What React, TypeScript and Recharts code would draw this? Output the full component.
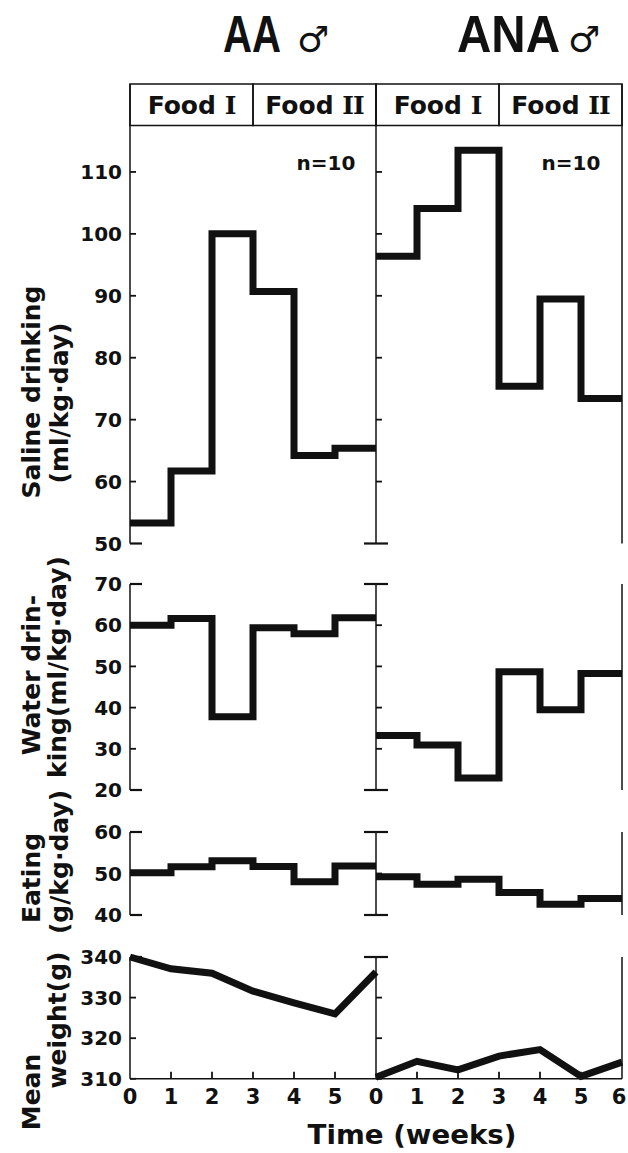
import React from "react";
import { LineChart, Line, XAxis, YAxis, ReferenceArea } from "recharts";

// weekly means; weeks 0..5 are steps, weight is per week 0..6
const weeks = [0, 1, 2, 3, 4, 5, 6];

const salineAA = [53.3, 61.7, 100.0, 90.7, 64.2, 65.4];
const salineANA = [96.4, 104.1, 113.5, 75.4, 89.5, 73.4];
const waterAA = [60.0, 61.6, 37.8, 59.4, 57.9, 61.8];
const waterANA = [33.2, 30.9, 22.9, 48.7, 39.5, 48.3];
const eatingAA = [50.2, 51.6, 53.1, 51.7, 48.0, 51.8];
const eatingANA = [49.2, 47.4, 48.6, 45.4, 42.6, 44.0];
const weightAA = [340.0, 337.1, 336.0, 331.6, 328.7, 326.0, 336.3];
const weightANA = [310.4, 314.3, 312.2, 315.6, 317.2, 310.6, 314.1];

const salineTicks = [50, 60, 70, 80, 90, 100, 110];
const waterTicks = [20, 30, 40, 50, 60, 70];
const eatingTicks = [40, 50, 60];
const weightTicks = [310, 320, 330, 340];

const foodLabels = ["I", "II"];

const FONT = "'DejaVu Sans', sans-serif";
const INK = "#111";

type Pt = { week: number; v: number };

// step series need a closing point at week 6
const toSteps = (vals: number[]): Pt[] =>
  weeks.map((w) => ({ week: w, v: vals[Math.min(w, vals.length - 1)] }));
const toPoints = (vals: number[]): Pt[] =>
  weeks.map((w, i) => ({ week: w, v: vals[i] }));

const YTick = ({ x, y, payload, caps, showLabel, both }: any) => {
  const v = payload.value;
  const isCap = caps.includes(v);
  return (
    <g>
      {isCap ? (
        <line x1={both ? x - 12 : x} x2={x + 12} y1={y} y2={y} stroke={INK} strokeWidth={2.2} />
      ) : (
        <line x1={x} x2={x + 6} y1={y} y2={y} stroke={INK} strokeWidth={1.8} />
      )}
      {showLabel && (
        <text
          x={x - 8}
          y={y}
          dy="0.36em"
          textAnchor="end"
          fontFamily={FONT}
          fontWeight="bold"
          fontSize={20}
          fill={INK}
        >
          {v}
        </text>
      )}
    </g>
  );
};

const RightCap = ({ x, y }: any) => (
  <line x1={x - 11} x2={x} y1={y} y2={y} stroke={INK} strokeWidth={2.2} />
);

const XTick = ({ x, y, payload, showLast }: any) => {
  const v = payload.value;
  return (
    <g>
      {v > 0 && v < 6 && (
        <line x1={x} x2={x} y1={y} y2={y - 7} stroke={INK} strokeWidth={1.8} />
      )}
      {(showLast || v < 6) && (
        <text
          x={v === 6 ? x - 3 : x}
          y={y + 25}
          textAnchor="middle"
          fontFamily={FONT}
          fontWeight="bold"
          fontSize={21}
          fill={INK}
        >
          {v}
        </text>
      )}
    </g>
  );
};

const headerLabel = (num: string) => (props: any) => {
  const { x, y, width, height } = props.viewBox;
  return (
    <text
      x={x + width / 2}
      y={y + height / 2}
      dy="0.36em"
      textAnchor="middle"
      fontFamily={FONT}
      fontWeight="bold"
      fontSize={25}
      fill={INK}
    >
      Food{" "}
      <tspan fontFamily="'DejaVu Serif', serif" letterSpacing={-1}>
        {num}
      </tspan>
    </text>
  );
};

interface PanelProps {
  data: Pt[];
  step?: boolean;
  domain: [number, number];
  ticks: number[];
  caps: number[];
  top: number;
  bottom: number;
  group: 0 | 1;
  withX?: boolean;
  header?: [number, number];
}

const Panel = ({ data, step, domain, ticks, caps, top, bottom, group, withX, header }: PanelProps) => {
  const isAA = group === 0;
  const mTop = 18;
  const xH = withX ? 40 : 0;
  const mBottom = withX ? 0 : 18;
  const width = isAA ? 390 : 288;
  const height = bottom - top + mTop + mBottom + xH;
  const axisLine = { stroke: INK, strokeWidth: 1.5 };

  return (
    <div style={{ position: "absolute", left: isAA ? 0 : 340, top: top - mTop }}>
      <LineChart
        width={width}
        height={height}
        data={data}
        margin={{ top: mTop, right: isAA ? 14 : 0, bottom: mBottom, left: 0 }}
      >
        <XAxis
          dataKey="week"
          type="number"
          domain={[0, 6]}
          ticks={weeks}
          interval={0}
          hide={!withX}
          height={xH}
          axisLine={axisLine}
          tickLine={false}
          tickSize={0}
          tickMargin={0}
          tick={(p: any) => <XTick {...p} showLast={!isAA} />}
        />
        <YAxis
          yAxisId="l"
          width={isAA ? 130 : 36}
          type="number"
          domain={domain}
          ticks={ticks}
          interval={0}
          axisLine={axisLine}
          tickLine={false}
          tickSize={0}
          tickMargin={0}
          tick={(p: any) => <YTick {...p} caps={caps} showLabel={isAA} both={!isAA} />}
        />
        {!isAA && (
          <YAxis
            yAxisId="r"
            orientation="right"
            width={6}
            type="number"
            domain={domain}
            ticks={caps}
            interval={0}
            axisLine={axisLine}
            tickLine={false}
            tickSize={0}
            tickMargin={0}
            tick={(p: any) => <RightCap {...p} />}
          />
        )}
        {header &&
          foodLabels.map((f, i) => (
            <ReferenceArea
              key={f}
              yAxisId="l"
              x1={i * 3}
              x2={i * 3 + 3}
              y1={header[0]}
              y2={header[1]}
              fill="none"
              stroke={INK}
              strokeWidth={1.5}
              ifOverflow="visible"
              label={headerLabel(f)}
            />
          ))}
        <Line
          yAxisId="l"
          dataKey="v"
          type={step ? "stepAfter" : "linear"}
          stroke={INK}
          strokeWidth={7}
          strokeLinejoin="miter"
          strokeLinecap="butt"
          dot={false}
          activeDot={false}
          isAnimationActive={false}
        />
      </LineChart>
    </div>
  );
};

const rows = [
  {
    aa: toSteps(salineAA), ana: toSteps(salineANA), step: true,
    domain: [50, 124.2] as [number, number], ticks: salineTicks, caps: [50],
    top: 83.5, bottom: 543, header: [117.5, 124.2] as [number, number],
  },
  {
    aa: toSteps(waterAA), ana: toSteps(waterANA), step: true,
    domain: [20, 70] as [number, number], ticks: waterTicks, caps: [20, 70],
    top: 583.5, bottom: 789.5,
  },
  {
    aa: toSteps(eatingAA), ana: toSteps(eatingANA), step: true,
    domain: [40, 60] as [number, number], ticks: eatingTicks, caps: [40, 60],
    top: 832, bottom: 915,
  },
  {
    aa: toPoints(weightAA), ana: toPoints(weightANA), step: false,
    domain: [310, 340] as [number, number], ticks: weightTicks, caps: [340],
    top: 956.7, bottom: 1078.5, withX: true,
  },
];

const yTitles = [
  { text: "Saline drinking", x: 40, y: 392 },
  { text: "(ml/kg·day)", x: 68, y: 403 },
  { text: "Water drin-", x: 40, y: 675 },
  { text: "king(ml/kg·day)", x: 66, y: 667 },
  { text: "Eating", x: 40, y: 878 },
  { text: "(g/kg·day)", x: 68, y: 862 },
  { text: "Mean", x: 40, y: 1092 },
  { text: "weight(g)", x: 66, y: 1020 },
];

export default function App() {
  return (
    <div
      style={{
        position: "absolute",
        left: 0,
        top: 0,
        width: 628,
        height: 1153,
        background: "#fff",
        overflow: "hidden",
      }}
    >
      {rows.map((r, i) => (
        <React.Fragment key={i}>
          <Panel
            data={r.aa}
            step={r.step}
            domain={r.domain}
            ticks={r.ticks}
            caps={r.caps}
            top={r.top}
            bottom={r.bottom}
            group={0}
            withX={r.withX}
            header={r.header}
          />
          <Panel
            data={r.ana}
            step={r.step}
            domain={r.domain}
            ticks={r.ticks}
            caps={r.caps}
            top={r.top}
            bottom={r.bottom}
            group={1}
            withX={r.withX}
            header={r.header}
          />
        </React.Fragment>
      ))}

      <svg
        width={628}
        height={1153}
        style={{ position: "absolute", left: 0, top: 0, pointerEvents: "none" }}
      >
        <g fill={INK} fontWeight="bold">
          <text x={223} y={52} fontFamily="'Liberation Sans', sans-serif" fontSize={52} textLength={58} lengthAdjust="spacingAndGlyphs">
            AA
          </text>
          <text x={297} y={52} fontFamily={FONT} fontSize={36}>♂</text>
          <text x={457} y={52} fontFamily="'Liberation Sans', sans-serif" fontSize={52} textLength={103} lengthAdjust="spacingAndGlyphs">
            ANA
          </text>
          <text x={568} y={52} fontFamily={FONT} fontSize={36}>♂</text>

          <text x={326} y={163} dy="0.36em" textAnchor="middle" fontFamily={FONT} fontSize={20}>n=10</text>
          <text x={571} y={163} dy="0.36em" textAnchor="middle" fontFamily={FONT} fontSize={20}>n=10</text>

          {yTitles.map((t) => (
            <text
              key={t.text}
              transform={`translate(${t.x},${t.y}) rotate(-90)`}
              textAnchor="middle"
              fontFamily={FONT}
              fontSize={25}
            >
              {t.text}
            </text>
          ))}

          <text x={412} y={1144} textAnchor="middle" fontFamily={FONT} fontSize={27} textLength={209} lengthAdjust="spacingAndGlyphs">
            Time (weeks)
          </text>
        </g>
      </svg>
    </div>
  );
}
